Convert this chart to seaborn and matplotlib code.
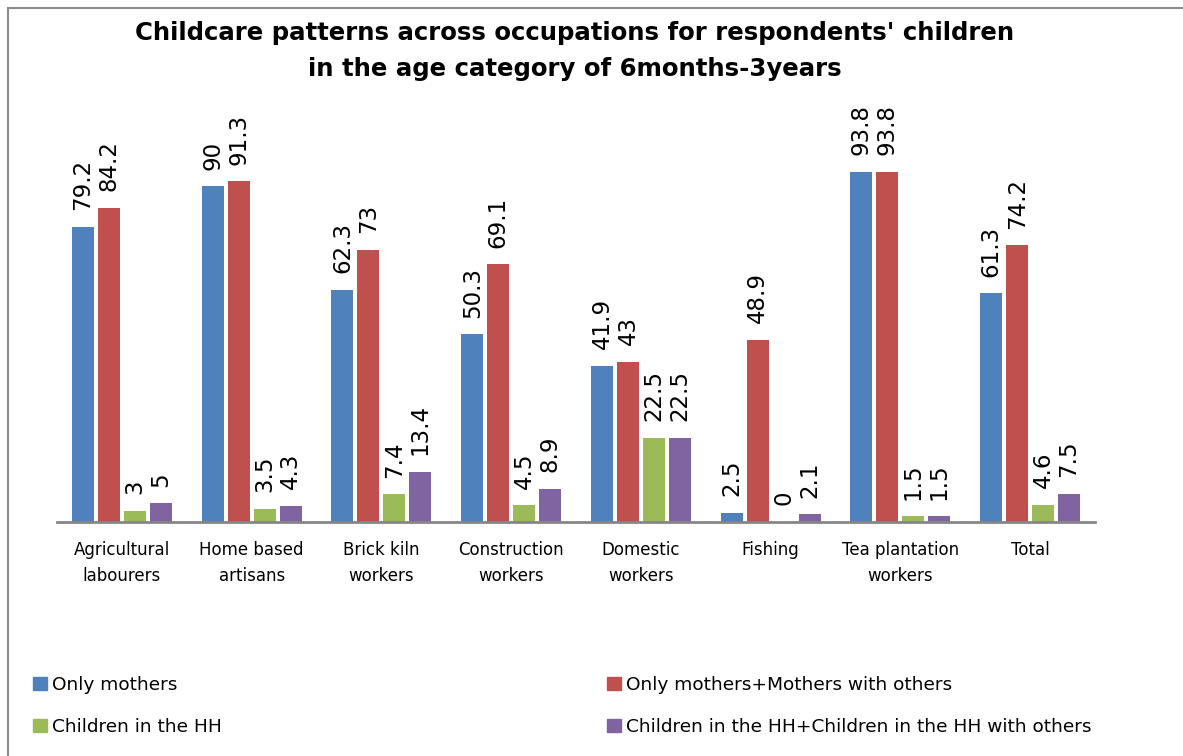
import numpy as np
import pandas as pd
import seaborn as sns
import matplotlib.pyplot as plt
from matplotlib.patches import Rectangle, Patch

#========================= Data ===============================================
occupations = ['Agricultural\nlabourers', 'Home based\nartisans', 'Brick kiln\nworkers',
               'Construction\nworkers', 'Domestic\nworkers', 'Fishing',
               'Tea plantation\nworkers', 'Total']
series = ['Only mothers', 'Only mothers+Mothers with others',
          'Children in the HH', 'Children in the HH+Children in the HH with others']
only_mothers = [79.2, 90, 62.3, 50.3, 41.9, 2.5, 93.8, 61.3]
mothers_with_others = [84.2, 91.3, 73, 69.1, 43, 48.9, 93.8, 74.2]
children_hh = [3, 3.5, 7.4, 4.5, 22.5, 0, 1.5, 4.6]
children_hh_others = [5, 4.3, 13.4, 8.9, 22.5, 2.1, 1.5, 7.5]
colors = ['#4F81BD', '#C0504D', '#9BBB59', '#8064A2']

values = [only_mothers, mothers_with_others, children_hh, children_hh_others]
df = pd.DataFrame({
    'occupation': np.tile(occupations, len(series)),
    'series': np.repeat(series, len(occupations)),
    'value': np.concatenate(values),
})

#========================= Plot ===============================================
sns.set_style('white')
plt.rcParams['font.family'] = ['DejaVu Sans']
plt.rcParams['text.color'] = 'black'
plt.rcParams['xtick.color'] = 'black'

fig = plt.figure(figsize=(11.83, 7.56), dpi=100)
ax = fig.add_axes([57/1183, 1 - 522/756, (1095-57)/1183, (522-149)/756])

sns.barplot(data=df, x='occupation', y='value', hue='series', palette=colors,
            order=occupations, hue_order=series, width=0.8, gap=0.15,
            saturation=1, linewidth=0, legend=False, ax=ax)

for cont in ax.containers:
    ax.bar_label(cont, fmt='%g', rotation=90, padding=12, fontsize=16.5,
                 color='black', clip_on=False)

ax.set_ylim(0, 100)
ax.set_xlim(-0.5, len(occupations) - 0.5)
ax.set_xlabel('')
ax.set_ylabel('')
ax.set_yticks([])
ax.tick_params(axis='x', length=0, pad=14, labelsize=12, labelcolor='black')
for lab in ax.get_xticklabels():
    lab.set_linespacing(1.55)
for s in ['left', 'right', 'top']:
    ax.spines[s].set_visible(False)
ax.spines['bottom'].set_color('#868686')
ax.spines['bottom'].set_linewidth(2)

fig.text(0.486, 0.972, "Childcare patterns across occupations for respondents' children\n"
         "in the age category of 6months-3years", ha='center', va='top',
         fontsize=17.6, fontweight='bold', linespacing=1.6, color='black')

# frame around chart area
fig.patches.append(Rectangle((8/1183, -0.1), 1.2, 1.1 - 8/756,
                             transform=fig.transFigure, fill=False,
                             edgecolor='#8a8a8a', linewidth=1.5))

# legend in two columns
h = [Patch(color=c) for c in colors]
leg_kw = dict(frameon=False, fontsize=13.3, handlelength=0.75, handleheight=0.75,
              handletextpad=0.3, labelspacing=1.3, borderpad=0, borderaxespad=0)
fig.legend([h[0], h[2]], [series[0], series[2]], loc='upper left',
           bbox_to_anchor=(33/1183, 1 - 676/756), **leg_kw)
fig.legend([h[1], h[3]], [series[1], series[3]], loc='upper left',
           bbox_to_anchor=(607/1183, 1 - 676/756), **leg_kw)

fig.savefig('out.png', dpi=100)
